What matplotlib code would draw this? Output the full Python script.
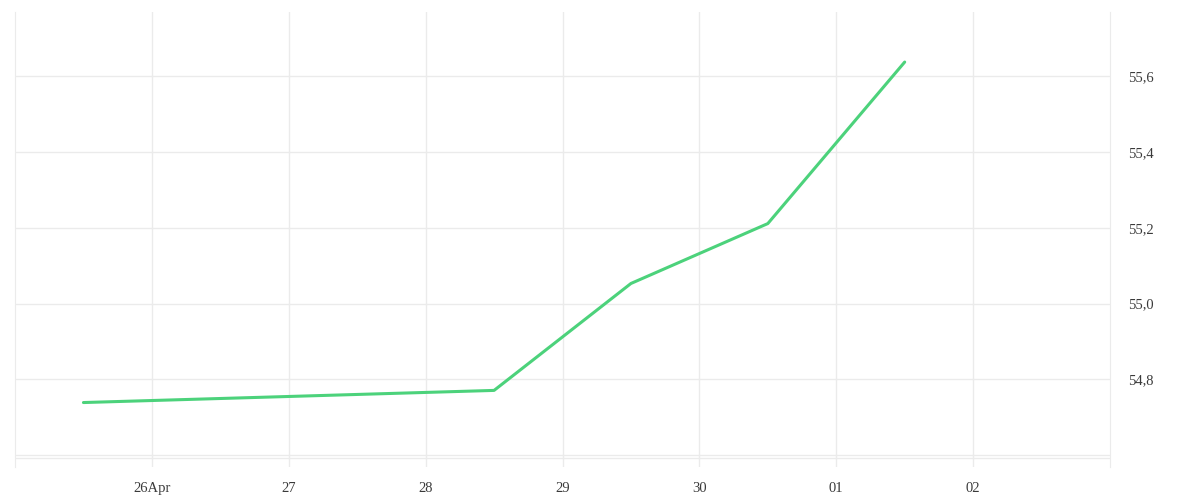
import matplotlib
matplotlib.use("Agg")
import matplotlib.pyplot as plt
import matplotlib.ticker as mticker
from datetime import datetime

# data
dates = ["2024-04-25 12:00", "2024-04-28 12:00", "2024-04-29 12:00",
         "2024-04-30 12:00", "2024-05-01 12:00"]
values = [54.739, 54.771, 55.053, 55.211, 55.637]

tick_days = ["2024-04-26", "2024-04-27", "2024-04-28", "2024-04-29",
             "2024-04-30", "2024-05-01", "2024-05-02"]
tick_labels = ["26Apr", "27", "28", "29", "30", "01", "02"]
y_ticks = [54.6, 54.8, 55.0, 55.2, 55.4, 55.6]

x = [datetime.strptime(d, "%Y-%m-%d %H:%M") for d in dates]
xt = [datetime.strptime(d, "%Y-%m-%d") for d in tick_days]

plt.rcParams['font.family'] = ['Liberation Serif', 'DejaVu Serif']

W, H = 1200, 500
fig = plt.figure(figsize=(12, 5), dpi=100)
# axes box in pixels: left 15, right 1110, top 12, bottom 467
ax = fig.add_axes([15 / W, (H - 467) / H, (1110 - 15) / W, (467 - 12) / H])

grid_c = "#ebebeb"
ax.plot(x, values, color="#4cd27b", linewidth=2.2, solid_capstyle="round")

ax.set_xlim(datetime(2024, 4, 25), datetime(2024, 5, 3))
ax.set_ylim(54.569, 55.769)

ax.set_xticks(xt)
ax.set_xticklabels(tick_labels)
ax.yaxis.tick_right()
ax.set_yticks(y_ticks)
ax.yaxis.set_major_formatter(mticker.FuncFormatter(
    lambda v, p: "" if v < 54.7 else f"{v:.1f}".replace(".", ",")))

ax.grid(True, color=grid_c, linewidth=1)
ax.tick_params(axis="both", length=0, labelsize=10.5, colors="#3a3a3a")
ax.tick_params(axis="x", pad=11)
ax.tick_params(axis="y", pad=13)

for s in ax.spines.values():
    s.set_visible(False)
for side in ("left", "right"):
    ax.spines[side].set_visible(True)
    ax.spines[side].set_color(grid_c)

# baseline just under the lowest gridline
ax.plot([0, 1], [9 / 455, 9 / 455], transform=ax.transAxes,
        color=grid_c, linewidth=1)

fig.savefig("out.png", dpi=100, facecolor="white")
